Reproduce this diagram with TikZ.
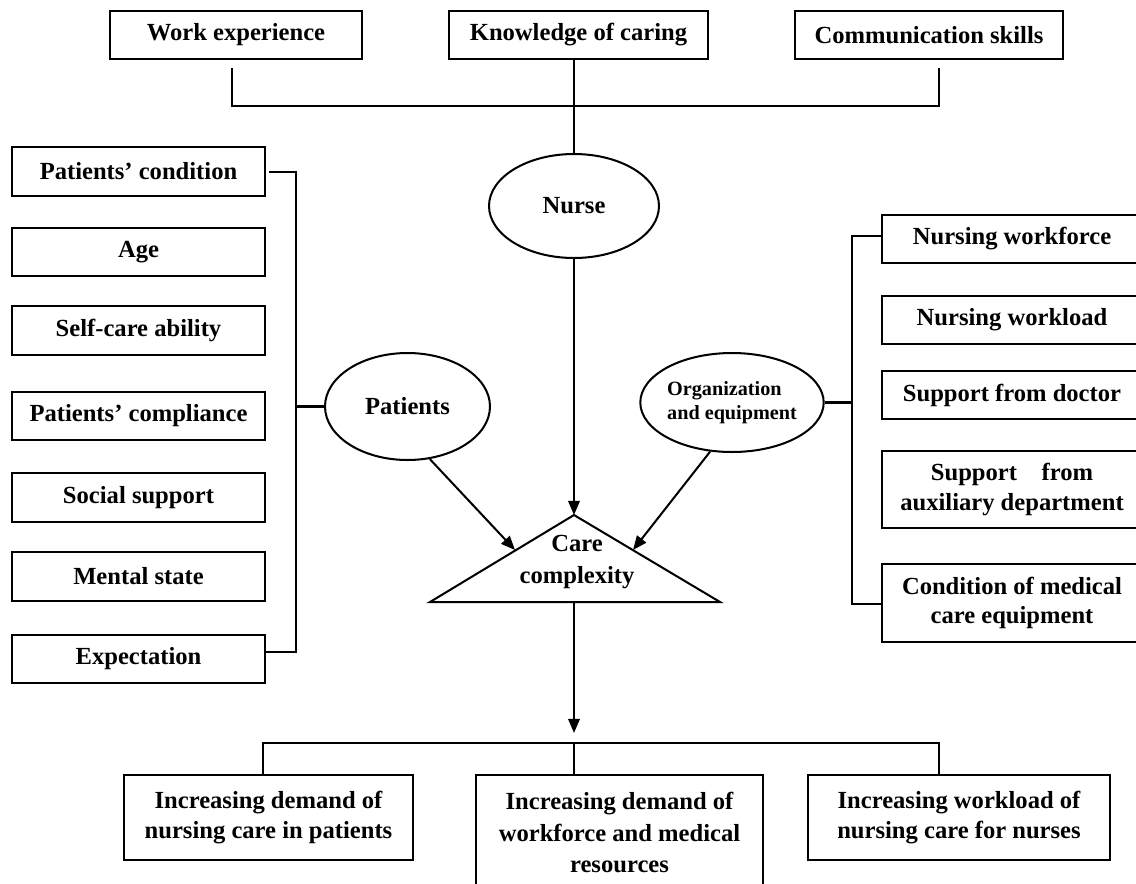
\documentclass[tikz,border=0pt]{standalone}
\usepackage{fontspec}
\setmainfont{Liberation Serif}
\usepackage{tikz}
\usetikzlibrary{arrows.meta,shapes.geometric,positioning}

\tikzset{
  txt/.style={font=\fontsize{14}{17}\selectfont\bfseries, align=center},
  factor/.style={txt, draw, inner sep=2pt, minimum height=0.97cm},
  group/.style={txt, draw, ellipse, inner sep=0pt},
  arr/.style={-{Triangle[length=8pt,width=6.5pt]}}
}

\begin{document}
\begin{tikzpicture}[x=0.02cm, y=-0.02cm, line width=1.15pt]
\useasboundingbox (0,0) rectangle (1136,883);

% Nurse factors
\node[factor, minimum width=5.04cm] (work) at (236,35) {Work experience};
\node[factor, minimum width=5.18cm] (know) at (578.5,35) {Knowledge of caring};
\node[factor, minimum width=5.36cm] (comm) at (929,35) {Communication skills};

% Patient factors
\node[factor, minimum width=5.06cm] (cond) at (138.5,171.5) {Patients' condition};
\node[factor, minimum width=5.06cm] (age) at (138.5,252) {Age};
\node[factor, minimum width=5.06cm] (self) at (138.5,330.5) {Self-care ability};
\node[factor, minimum width=5.06cm] (compl) at (138.5,416) {Patients' compliance};
\node[factor, minimum width=5.06cm] (social) at (138.5,497.5) {Social support};
\node[factor, minimum width=5.06cm] (mental) at (138.5,576.5) {Mental state};
\node[factor, minimum width=5.06cm] (expect) at (138.5,659) {Expectation};

% Organization factors
\node[factor, minimum width=5.2cm] (force) at (1012,239) {Nursing workforce};
\node[factor, minimum width=5.2cm] (load) at (1012,320) {Nursing workload};
\node[factor, minimum width=5.2cm] (doctor) at (1012,395) {Support from doctor};
\node[factor, minimum width=5.2cm, minimum height=1.55cm] (aux) at (1012,489.5) {Support\hspace{1em}from\\auxiliary department};
\node[factor, minimum width=5.2cm, minimum height=1.56cm] (equip) at (1012,603) {Condition of medical\\care equipment};

% Groups
\node[group, minimum width=3.4cm, minimum height=2.08cm] (nurse) at (574,206) {Nurse};
\node[group, minimum width=3.3cm, minimum height=2.14cm] (pat) at (407.5,406.5) {Patients};
\node[group, minimum width=3.44cm, minimum height=1.98cm, align=left,
      font=\fontsize{11.5}{14}\selectfont\bfseries] (org) at (732,402.5) {Organization\\and equipment};

% Care complexity triangle
\coordinate (tA) at (574,515);
\coordinate (tL) at (430,602);
\coordinate (tR) at (720,602);
\coordinate (tB) at (574,602);
\draw (tL) -- (tA) -- (tR) -- cycle;
\node[txt, font=\fontsize{14}{18}\selectfont\bfseries] (care) at (577,562) {Care\\complexity};

% Outcomes
\node[factor, minimum width=5.78cm, minimum height=1.7cm] (demp) at (268.5,817.5) {Increasing demand of\\nursing care in patients};
\node[factor, minimum width=5.74cm, minimum height=2.3cm, font=\fontsize{14}{18}\selectfont\bfseries] (demw) at (619.5,832.5) {Increasing demand of\\workforce and medical\\resources};
\node[factor, minimum width=6.04cm, minimum height=1.7cm] (wload) at (959,817.5) {Increasing workload of\\nursing care for nurses};

% Top bracket
\coordinate (wl) at (232,68);
\coordinate (wlb) at (232,106);
\coordinate (wrb) at (939,106);
\coordinate (wr) at (939,68);
\draw (wl) -- (wlb) -- (wrb) -- (wr);
\draw (nurse.north |- know.south) -- (nurse.north);

% Left bracket
\coordinate (lt0) at (269,172);
\coordinate (lbt) at (296,172);
\coordinate (lbb) at (296,652);
\draw (lt0) -- (lbt) -- (lbb) -- (expect.east |- lbb);
\draw (pat.west) -- (pat.west -| lbt);

% Right bracket
\coordinate (rbt) at (852,236);
\coordinate (rbb) at (852,604);
\draw (force.west |- rbt) -- (rbt) -- (rbb) -- (equip.west |- rbb);
\draw (org.east) -- (org.east -| rbt);

% Arrows into care complexity
\coordinate (pin) at (515,550);
\coordinate (oin) at (633,550);
\draw[arr] (nurse.south) -- (tA);
\draw[arr] (pat.-67) -- (pin);
\draw[arr] (org.-114) -- (oin);

% Outcome bracket
\coordinate (outtip) at (574,733);
\coordinate (jl) at (263,743);
\coordinate (jm) at (574,743);
\coordinate (jr) at (939,743);
\draw[arr] (tB) -- (outtip);
\draw (jl |- demp.north) -- (jl) -- (jr) -- (jr |- wload.north);
\draw (jm) -- (jm |- demw.north);

\end{tikzpicture}
\end{document}
